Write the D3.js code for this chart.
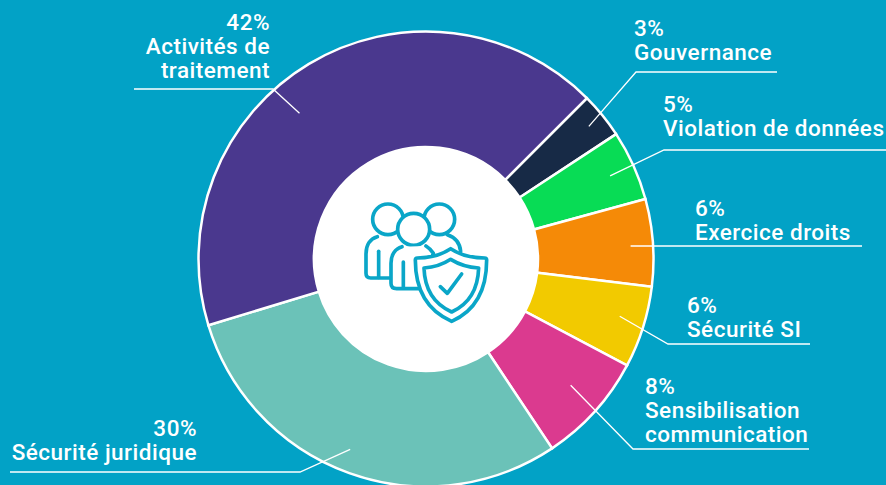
<!DOCTYPE html>
<html>
<head>
<meta charset="utf-8">
<script src="https://cdn.jsdelivr.net/npm/d3@7"></script>
<style>
    html, body { margin: 0; padding: 0; background: #02a2c6; overflow: hidden; }
    text { font-family: "Roboto", sans-serif; font-weight: 500; font-size: 22.5px; letter-spacing: 0.5px; fill: #fff; }
</style>
</head>
<body>
<div id="chart"></div>
<script>
// Slice shares as drawn (the printed percentages are rounded)
const categories = ["Gouvernance", "Violation de données", "Exercice droits", "Sécurité SI",
    "Sensibilisation communication", "Sécurité juridique", "Activités de traitement"];
const shares = [3.25, 5.0, 6.2, 5.8, 7.9, 29.65, 42.2];
const percent_labels = ["3%", "5%", "6%", "6%", "8%", "30%", "42%"];
const colors = ["#172a46", "#08dc55", "#f58a07", "#f2ca00", "#db3a8f", "#6bc2b8", "#4a388e"];

const width = 886;
const height = 485;
const cx = 426;
const cy = 259;
const outer_radius = 227.5;
const inner_radius = 112;

// Label layout, one per slice: text lines, anchor x, first baseline, leader elbow and end
const label_lines = [
    ["Gouvernance"],
    ["Violation de données"],
    ["Exercice droits"],
    ["Sécurité SI"],
    ["Sensibilisation", "communication"],
    ["Sécurité juridique"],
    ["Activités de", "traitement"]
];
const label_layout = [
    {x: 634, y: 36, anchor: "start", r: 210, turn: 0, elbow: [636, 72], end: [777, 72]},
    {x: 663, y: 112, anchor: "start", r: 202, turn: 0, elbow: [664, 150], end: [886, 150]},
    {x: 695, y: 216, anchor: "start", r: 205, turn: 0.5, elbow: null, end: [862, 246]},
    {x: 687, y: 313, anchor: "start", r: 202, turn: -1, elbow: [668, 344], end: [810, 344]},
    {x: 645, y: 394, anchor: "start", r: 192, turn: -1, elbow: [633, 449], end: [809, 449]},
    {x: 197, y: 436, anchor: "end", r: 205, turn: 2, elbow: [300, 472], end: [10, 472]},
    {x: 270, y: 30, anchor: "end", r: 193, turn: -10, elbow: [273, 89], end: [134, 89]}
];

function D3Donut() {
    const svg = d3.select("#chart").append("svg")
        .attr("width", width)
        .attr("height", height)
        .style("display", "block");

    const pie = d3.pie().sort(null)
        .startAngle(Math.PI / 4)
        .endAngle(Math.PI / 4 + 2 * Math.PI);
    const arc = d3.arc().innerRadius(inner_radius).outerRadius(outer_radius);
    const arcs = pie(shares);

    const donut = svg.append("g").attr("transform", `translate(${cx},${cy})`);

    donut.selectAll("path")
        .data(arcs)
        .join("path")
        .attr("d", arc)
        .attr("fill", (d, i) => colors[i])
        .attr("stroke", "white")
        .attr("stroke-width", 2.5);

    // White hole
    donut.append("circle").attr("r", inner_radius).attr("fill", "white");

    // Leader lines
    const line = d3.line();
    svg.append("g").selectAll("path")
        .data(arcs)
        .join("path")
        .attr("fill", "none")
        .attr("stroke", "white")
        .attr("stroke-width", 1.3)
        .attr("d", (d, i) => {
            const l = label_layout[i];
            const mid = (d.startAngle + d.endAngle) / 2 + l.turn * Math.PI / 180;
            const p = d3.pointRadial(mid, l.r);
            const start = [p[0] + cx, p[1] + cy];
            return line(l.elbow ? [start, l.elbow, l.end] : [start, l.end]);
        });

    // Labels: percent first, then the category lines
    const label = svg.append("g").selectAll("text")
        .data(categories)
        .join("text")
        .attr("text-anchor", (d, i) => label_layout[i].anchor);
    label.selectAll("tspan")
        .data((d, i) => [percent_labels[i], ...label_lines[i]].map((t, k) => ({t, k, l: label_layout[i]})))
        .join("tspan")
        .attr("x", d => d.l.x)
        .attr("y", d => d.l.y + d.k * 24)
        .text(d => d.t);

    // Centre icon, traced in 3x crop pixels
    const icon = svg.append("g")
        .attr("transform", "translate(340,180) scale(0.3333)")
        .attr("fill", "none")
        .attr("stroke", "#0aa6c8")
        .attr("stroke-width", 11)
        .attr("stroke-linecap", "round")
        .attr("stroke-linejoin", "round");
    icon.append("circle").attr("cx", 144).attr("cy", 118).attr("r", 46);
    icon.append("circle").attr("cx", 298).attr("cy", 118).attr("r", 46);
    icon.append("path").attr("d", "M112 170 C90 176 78 196 78 222 L78 280 Q78 294 92 294 L152 294");
    icon.append("path").attr("d", "M116 214 L116 292");
    icon.append("path").attr("d", "M322 164 C346 172 360 190 362 214");
    icon.append("circle").attr("cx", 221).attr("cy", 148).attr("fill", "white").attr("r", 48);
    icon.append("path").attr("fill", "white").attr("d", "M186 200 C166 206 153 224 153 250 L153 310 Q153 326 170 326 L240 326 L280 220 C275 212 268 204 258 198");
    icon.append("path").attr("d", "M190 246 L190 324");
    icon.append("path")
        .attr("fill", "white")
        .attr("d", "M332 206 C302 226 268 234 232 234 Q226 234 226 240 C226 330 262 392 335 424 C408 392 440 330 440 240 Q440 234 434 234 C398 234 362 226 332 206 Z");
    icon.append("path").attr("d", "M332 238 C308 254 282 262 252 264 C254 328 282 372 335 396 C388 372 414 328 416 264 C384 262 358 254 332 238 Z");
    icon.append("path").attr("d", "M301 320 L322 340 L365 282");
}

D3Donut();
</script>
</body>
</html>
